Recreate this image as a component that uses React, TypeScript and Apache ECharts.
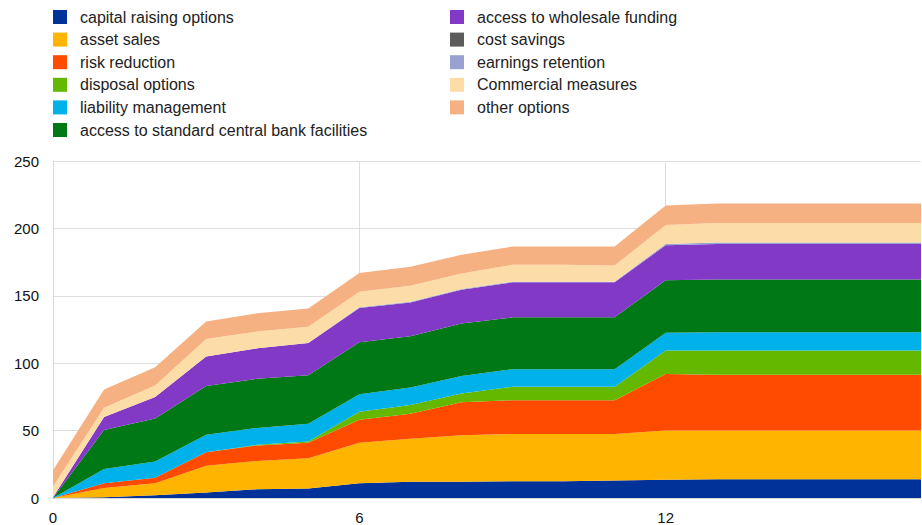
import React, { useEffect, useRef } from "react";
import * as echarts from "echarts";

const xValues = ["0", "1", "2", "3", "4", "5", "6", "7", "8", "9", "10", "11", "12", "13", "14", "15", "16", "17"];

const seriesNames = [
  "capital raising options",
  "asset sales",
  "risk reduction",
  "disposal options",
  "liability management",
  "access to standard central bank facilities",
  "access to wholesale funding",
  "cost savings",
  "earnings retention",
  "Commercial measures",
  "other options",
];

const seriesColors = [
  "#003299",
  "#FFB400",
  "#FF4B00",
  "#65B800",
  "#00B1EA",
  "#007816",
  "#8139C6",
  "#5C5C5C",
  "#98A1D0",
  "#FDDDA7",
  "#F6B183",
];

const capitalRaising = [0, 0.5, 2, 4, 6.5, 7, 11, 12, 12, 12.5, 12.5, 13, 13.5, 14, 14, 14, 14, 14];
const assetSales = [0, 7, 9, 20, 21, 22.5, 30, 32, 34.5, 35, 35, 34.5, 36.5, 36, 36, 36, 36, 36];
const riskReduction = [0, 3.5, 4, 10, 11.5, 11.5, 17, 18.5, 24.5, 25, 25, 25, 42, 41.5, 41.5, 41.5, 41.5, 41.5];
const disposalOptions = [0, 0, 0, 0, 0.5, 1, 6, 6.5, 6.5, 10, 10, 10, 17.5, 18, 18, 18, 18, 18];
const liabilityManagement = [0, 10.5, 12, 13, 12.5, 13, 13, 13, 13, 13, 13, 13, 13, 13.5, 13.5, 13.5, 13.5, 13.5];
const centralBank = [0, 29, 32, 36, 36.5, 36, 38.5, 38, 39, 38.5, 38.5, 38.5, 39, 39, 39, 39, 39, 39];
const wholesaleFunding = [0.5, 9.5, 16, 22, 22.5, 24, 25.5, 25, 25, 26, 26, 26, 26, 26.5, 26.5, 26.5, 26.5, 26.5];
const costSavings = [0, 0, 0, 0, 0, 0, 0, 0, 0, 0, 0, 0, 0, 0, 0, 0, 0, 0];
const earningsRetention = [0, 0, 0, 0, 0, 0, 0.5, 0.5, 0.5, 0.5, 0.5, 0.5, 1, 1, 1, 1, 1, 1];
const commercialMeasures = [8, 7, 8.5, 13, 12.5, 12, 11.5, 12, 11.5, 12.5, 12.5, 12, 14, 14.5, 14.5, 14.5, 14.5, 14.5];
const otherOptions = [12, 13.5, 13.5, 13, 13.5, 13.5, 14, 14, 14, 13.5, 13.5, 14, 14.5, 14.5, 14.5, 14.5, 14.5, 14.5];

const seriesValues = [
  capitalRaising,
  assetSales,
  riskReduction,
  disposalOptions,
  liabilityManagement,
  centralBank,
  wholesaleFunding,
  costSavings,
  earningsRetention,
  commercialMeasures,
  otherOptions,
];

const xTickLabels = ["0", "6", "12"];
const yTickLabels = [0, 50, 100, 150, 200, 250];

const FONT = "'Liberation Sans', Arial, sans-serif";

export default function App() {
  const ref = useRef<HTMLDivElement>(null);

  useEffect(() => {
    if (!ref.current) return;
    const chart = echarts.init(ref.current, undefined, { renderer: "svg" });

    const legendText = {
      fontFamily: FONT,
      fontSize: 16,
      color: "#222",
      padding: [0, 0, 0, 8],
    };

    const tickIdx = (i: number) => xTickLabels.indexOf(xValues[i]) >= 0;

    chart.setOption({
      animation: false,
      backgroundColor: "#fff",
      textStyle: { fontFamily: FONT },
      legend: [
        {
          orient: "vertical",
          left: 53,
          top: 9,
          padding: 0,
          itemWidth: 14,
          itemHeight: 14,
          itemGap: 6.6,
          icon: "rect",
          selectedMode: false,
          textStyle: legendText,
          data: seriesNames.slice(0, 6),
        },
        {
          orient: "vertical",
          left: 450,
          top: 9,
          padding: 0,
          itemWidth: 14,
          itemHeight: 14,
          itemGap: 6.6,
          icon: "rect",
          selectedMode: false,
          textStyle: legendText,
          data: seriesNames.slice(6),
        },
      ],
      grid: { left: 53, right: 1, top: 161, bottom: 25, containLabel: false },
      xAxis: {
        type: "category",
        data: xValues,
        boundaryGap: false,
        axisLine: { show: true, lineStyle: { color: "#d9d9d9" } },
        axisTick: { show: false },
        axisLabel: {
          fontFamily: FONT,
          fontSize: 15,
          color: "#111",
          margin: 12,
          interval: (i: number) => tickIdx(i),
        },
        splitLine: {
          show: true,
          interval: (i: number) => tickIdx(i),
          lineStyle: { color: "#dddddd", width: 1 },
        },
      },
      yAxis: {
        type: "value",
        min: 0,
        max: 250,
        interval: 50,
        axisLine: { show: true, lineStyle: { color: "#d9d9d9" } },
        axisTick: { show: false },
        axisLabel: {
          fontFamily: FONT,
          fontSize: 15,
          color: "#111",
          margin: 14,
          formatter: (v: number) => (yTickLabels.indexOf(v) >= 0 ? String(v) : ""),
        },
        splitLine: { show: true, lineStyle: { color: "#dddddd", width: 1 } },
      },
      series: seriesNames.map((name, i) => ({
        name,
        type: "line",
        stack: "total",
        symbol: "none",
        showSymbol: false,
        color: seriesColors[i],
        lineStyle: { width: 0 },
        areaStyle: { color: seriesColors[i], opacity: 1 },
        data: seriesValues[i],
      })),
    });

    return () => chart.dispose();
  }, []);

  return (
    <div
      ref={ref}
      style={{ position: "fixed", left: 0, top: 0, width: 922, height: 525, background: "#fff" }}
    />
  );
}
